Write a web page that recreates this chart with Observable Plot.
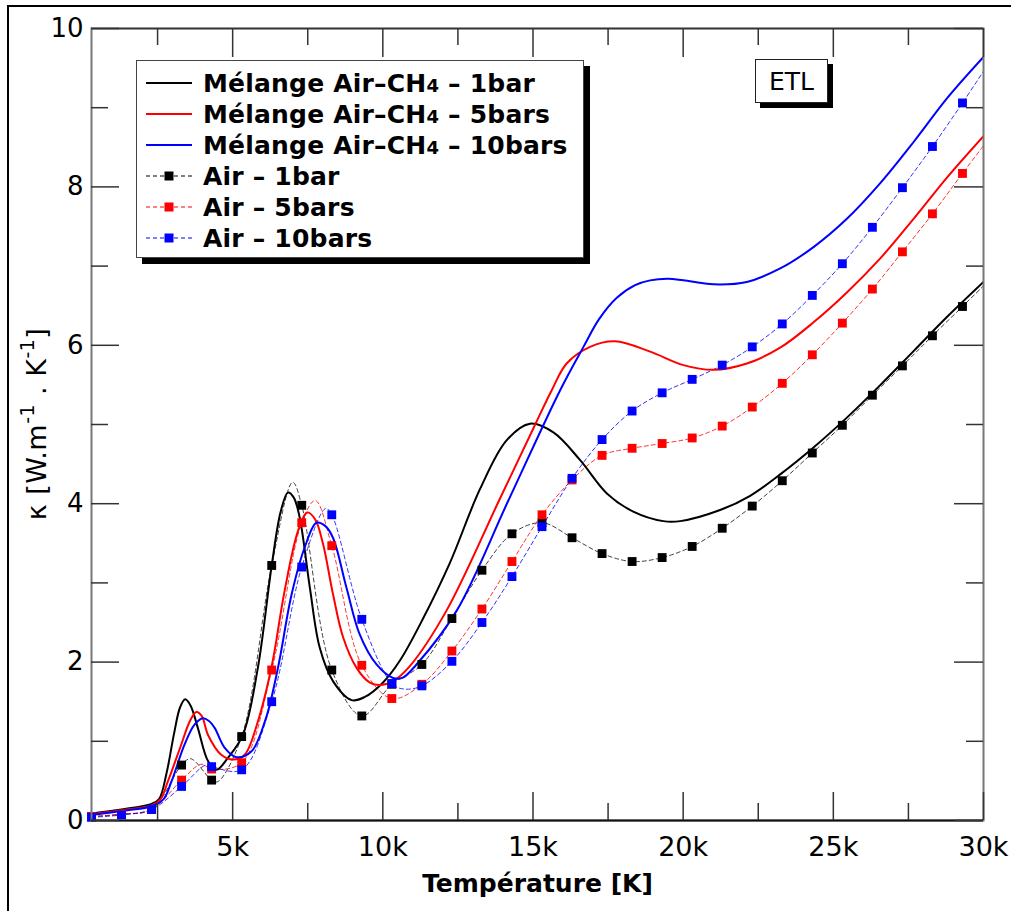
<!DOCTYPE html>
<html><head><meta charset="utf-8">
<script src="https://cdn.jsdelivr.net/npm/d3@7"></script>
<script src="https://cdn.jsdelivr.net/npm/@observablehq/plot@0.6"></script>
<style>
body{margin:0;background:#fff;}
#wrap{position:relative;width:1011px;height:911px;overflow:hidden;font-family:"DejaVu Sans",sans-serif;background:#fff;}
#wrap svg.plot{position:absolute;left:0;top:0;}
.bl{position:absolute;background:#000;}
#legend{position:absolute;left:136px;top:60px;width:448px;height:198px;border:1.5px solid #444;background:#fff;box-shadow:6px 6px 0 #000;box-sizing:border-box;}
.row{position:absolute;left:0;height:30px;display:flex;align-items:center;white-space:nowrap;font-weight:bold;font-size:25px;letter-spacing:0.2px;color:#000;}
.row svg{margin-left:9px;margin-right:10px;}
.row sub{font-size:0.72em;position:relative;top:0.05em;vertical-align:baseline;line-height:0;}
#etl{position:absolute;left:755px;top:59px;width:73px;height:44px;border:1.5px solid #222;background:#fff;box-shadow:5px 5px 0 #000;box-sizing:border-box;font-size:25px;display:flex;align-items:center;justify-content:center;}
#ylab{position:absolute;left:36px;top:424px;transform:translate(-50%,-50%) rotate(-90deg);white-space:nowrap;font-size:27px;letter-spacing:0.5px;}
#ylab sup{font-size:0.7em;position:relative;top:-0.1em;vertical-align:super;line-height:0;}
</style></head><body><div id="wrap"></div>
<script>
// ---------- data ----------
const markerT = [300,1300,2300,3300,4300,5300,6300,7300,8300,9300,10300,11300,12300,13300,14300,15300,16300,17300,18300,19300,20300,21300,22300,23300,24300,25300,26300,27300,28300,29300];
const air1  = [0.05,0.08,0.14,0.70,0.51,1.06,3.22,3.98,1.90,1.32,1.72,1.97,2.55,3.16,3.62,3.76,3.57,3.37,3.27,3.32,3.46,3.69,3.97,4.29,4.64,4.99,5.37,5.74,6.12,6.49];
const air5  = [0.05,0.08,0.14,0.51,0.65,0.73,1.90,3.76,3.47,1.96,1.54,1.72,2.14,2.67,3.27,3.86,4.30,4.61,4.70,4.76,4.83,4.98,5.22,5.52,5.88,6.28,6.71,7.18,7.66,8.17];
const air10 = [0.04,0.07,0.14,0.43,0.68,0.64,1.50,3.20,3.86,2.54,1.73,1.70,2.01,2.50,3.08,3.71,4.32,4.81,5.17,5.40,5.57,5.75,5.98,6.27,6.63,7.03,7.49,7.99,8.51,9.06];
// extra points of the dashed Air curves (between markers)
const air1Extra  = [[3600,0.78],[4500,0.49],[7000,4.27],[30000,6.75]];
const air5Extra  = [[3950,0.71],[7750,4.04],[30000,8.52]];
const air10Extra = [[4100,0.70],[8100,3.94],[10700,1.66],[30000,9.46]];
// Mélange Air-CH4 curves [T, kappa]
const mix1 = [[300,0.09],[1300,0.14],[2300,0.21],[2550,0.27],[2800,0.60],[3050,1.10],[3250,1.43],[3420,1.53],[3600,1.45],[3840,1.17],[4180,0.75],[4460,0.64],[4840,0.79],[5340,1.08],[5840,1.93],[6300,3.22],[6600,3.90],[6840,4.14],[7030,4.08],[7230,3.83],[7570,2.94],[7900,2.18],[8340,1.76],[8960,1.52],[9400,1.56],[10000,1.74],[10570,2.02],[11340,2.55],[12230,3.25],[13230,4.18],[14120,4.80],[14900,5.01],[15680,4.90],[16570,4.55],[17460,4.13],[18340,3.90],[19340,3.78],[19900,3.78],[21230,3.92],[22230,4.10],[23230,4.37],[24340,4.71],[25460,5.09],[26570,5.50],[27680,5.93],[28790,6.36],[30000,6.80]];
const mix5 = [[300,0.08],[1300,0.13],[2300,0.19],[2600,0.27],[2840,0.49],[3290,0.96],[3570,1.25],[3790,1.37],[3970,1.32],[4180,1.08],[4620,0.83],[5010,0.77],[5400,0.83],[5840,1.25],[6300,1.95],[6730,2.90],[7180,3.66],[7490,3.89],[7750,3.80],[8010,3.49],[8340,2.86],[8680,2.31],[9120,1.93],[9570,1.74],[9900,1.71],[10340,1.76],[10900,1.95],[12120,2.65],[13870,4.04],[15010,4.95],[15620,5.43],[16120,5.77],[16900,5.98],[17730,6.05],[18900,5.92],[20010,5.75],[21010,5.69],[22120,5.77],[23230,5.97],[24340,6.29],[25460,6.67],[26570,7.10],[27680,7.60],[28790,8.12],[30000,8.64]];
const mix10 = [[300,0.07],[1300,0.12],[2300,0.18],[2700,0.27],[2960,0.49],[3400,0.96],[3730,1.21],[4010,1.29],[4200,1.26],[4400,1.17],[4730,0.92],[5120,0.80],[5620,0.87],[6090,1.27],[6510,1.93],[6960,2.85],[7400,3.45],[7790,3.76],[8080,3.72],[8340,3.57],[8790,2.94],[9230,2.35],[9790,1.97],[10340,1.80],[10650,1.80],[11120,1.97],[12460,2.65],[14180,4.04],[15900,5.43],[16680,5.98],[17200,6.33],[17790,6.60],[18400,6.76],[18900,6.82],[19500,6.84],[20010,6.82],[21010,6.77],[22120,6.80],[23230,6.97],[24340,7.24],[25460,7.60],[26570,8.05],[27680,8.57],[28790,9.12],[30000,9.64]];
// ticks
const xMajor = [5000,10000,15000,20000,25000,30000];
const xTickLabels = ["5k","10k","15k","20k","25k","30k"];
const xMinor = [2500,7500,12500,17500,22500,27500];
const yMajor = [0,2,4,6,8,10];
const yTickLabels = ["0","2","4","6","8","10"];
const yMinor = [1,3,5,7,9];
const colors = ["#000000","#ff0000","#0000ff"];
const seriesNames = ["Mélange Air–CH<sub>4</sub> – 1bar","Mélange Air–CH<sub>4</sub> – 5bars","Mélange Air–CH<sub>4</sub> – 10bars","Air – 1bar","Air – 5bars","Air – 10bars"];

// ---------- build ----------
const W = 1011, H = 911, mL = 91, mR = 28, mT = 28, mB = 91;
const innerW = W - mL - mR, innerH = H - mT - mB;
const airSets = [air1, air5, air10];
const airExtras = [air1Extra, air5Extra, air10Extra];
const mixSets = [mix1, mix5, mix10];
const airLine = airSets.map((s, i) =>
  markerT.map((t, j) => [t, s[j]]).concat(airExtras[i]).sort((a, b) => a[0] - b[0]));
const airPts = airSets.map(s => markerT.map((t, j) => [t, s[j]]));

const marks = [];
airLine.forEach((d, i) => marks.push(Plot.line(d, {x: d => d[0], y: d => d[1], stroke: colors[i], strokeWidth: 1, strokeDasharray: "4,3", strokeOpacity: i === 0 ? 0.75 : 0.8, curve: "catmull-rom", clip: true})));
mixSets.forEach((d, i) => marks.push(Plot.line(d, {x: d => d[0], y: d => d[1], stroke: colors[i], strokeWidth: 2, curve: "catmull-rom", clip: true})));
airPts.forEach((d, i) => marks.push(Plot.dot(d, {x: d => d[0], y: d => d[1], symbol: "square", r: 5, fill: colors[i], stroke: "none"})));
marks.push(Plot.frame({stroke: "#777", strokeWidth: 2}));
marks.push(Plot.ruleY([0], {stroke: "#111", strokeWidth: 2}));
marks.push(Plot.ruleY([10], {stroke: "#333", strokeWidth: 1.5}));
const tk = "#333";
marks.push(Plot.ruleX(xMajor, {x: d => d, insetTop: innerH - 28, stroke: tk, strokeWidth: 1.5}));
marks.push(Plot.ruleX(xMinor, {x: d => d, insetTop: innerH - 17, stroke: tk, strokeWidth: 1.5}));
marks.push(Plot.ruleX(xMajor, {x: d => d, insetBottom: innerH - 29, stroke: tk, strokeWidth: 1.5}));
marks.push(Plot.ruleX(xMinor, {x: d => d, insetBottom: innerH - 17, stroke: tk, strokeWidth: 1.5}));
marks.push(Plot.ruleY(yMajor, {y: d => d, insetRight: innerW - 28, stroke: tk, strokeWidth: 1.5}));
marks.push(Plot.ruleY(yMinor, {y: d => d, insetRight: innerW - 17, stroke: tk, strokeWidth: 1.5}));
marks.push(Plot.ruleY(yMajor, {y: d => d, insetLeft: innerW - 29, stroke: tk, strokeWidth: 1.5}));
marks.push(Plot.ruleY(yMinor, {y: d => d, insetLeft: innerW - 17, stroke: tk, strokeWidth: 1.5}));
marks.push(Plot.text(xMajor, {x: d => d, frameAnchor: "bottom", dy: 27, text: (d, i) => xTickLabels[i], fontSize: 27, fill: "#000", lineAnchor: "middle"}));
marks.push(Plot.text(yMajor, {y: d => d, frameAnchor: "left", dx: -8, textAnchor: "end", text: (d, i) => yTickLabels[i], fontSize: 26, fill: "#000", lineAnchor: "middle"}));
marks.push(Plot.text(["Température [K]"], {frameAnchor: "bottom", dy: 63, text: d => d, fontSize: 25, fontWeight: "bold", fill: "#000", lineAnchor: "middle"}));

const chart = Plot.plot({
  width: W, height: H, marginLeft: mL, marginRight: mR, marginTop: mT, marginBottom: mB,
  x: {domain: [300, 30000], axis: null},
  y: {domain: [0, 10], axis: null},
  style: {fontFamily: "DejaVu Sans", background: "transparent", overflow: "visible"},
  marks
});
chart.classList.add("plot");
const wrap = document.getElementById("wrap");
wrap.appendChild(chart);

const b1 = document.createElement("div"); b1.className = "bl";
Object.assign(b1.style, {left: "7px", top: "5px", width: "2px", height: "906px"});
const b2 = document.createElement("div"); b2.className = "bl";
Object.assign(b2.style, {left: "7px", top: "5px", width: "1004px", height: "2px"});
wrap.appendChild(b1); wrap.appendChild(b2);

const yl = document.createElement("div"); yl.id = "ylab";
yl.innerHTML = "κ [W.m<sup>-1</sup> . K<sup>-1</sup>]";
wrap.appendChild(yl);

const lg = document.createElement("div"); lg.id = "legend";
const rowCenters = [22, 53, 84, 115, 146, 177];
seriesNames.forEach((name, i) => {
  const r = document.createElement("div"); r.className = "row";
  r.style.top = (rowCenters[i] - 15) + "px";
  const c = colors[i % 3];
  let sym;
  if (i < 3) {
    sym = `<svg width="47" height="12"><line x1="0" y1="6" x2="46" y2="6" stroke="${c}" stroke-width="2"/></svg>`;
  } else {
    sym = `<svg width="47" height="12"><line x1="0" y1="6" x2="46" y2="6" stroke="${c}" stroke-width="1" stroke-dasharray="4,3"/><rect x="18.5" y="1.5" width="9" height="9" fill="${c}"/></svg>`;
  }
  r.innerHTML = sym + `<span>${name}</span>`;
  lg.appendChild(r);
});
wrap.appendChild(lg);

const etl = document.createElement("div"); etl.id = "etl"; etl.textContent = "ETL";
wrap.appendChild(etl);
</script></body></html>
